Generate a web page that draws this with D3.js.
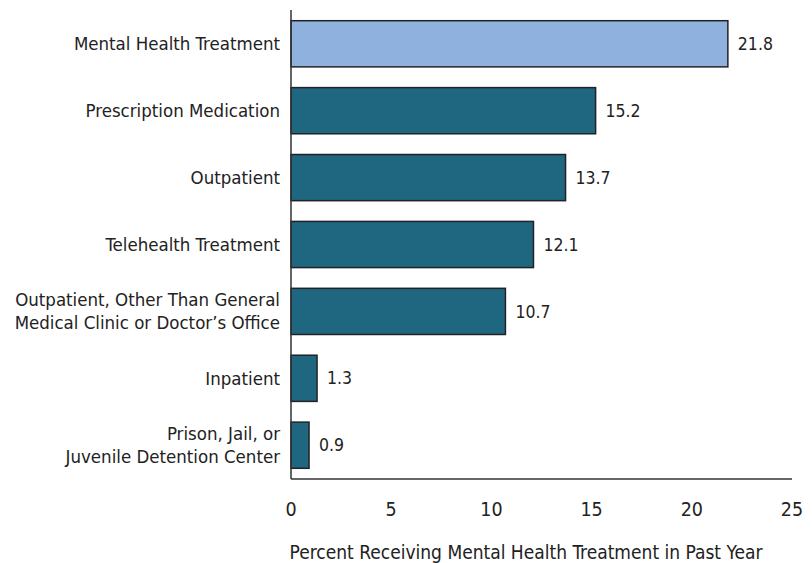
<!DOCTYPE html>
<html lang="en">
<meta charset="UTF-8">
<title>Mental Health Treatment</title>
<script src="https://d3js.org/d3.v7.min.js"></script>
<style>
  body { margin: 0; background: #fff; }
  text { font-family: "DejaVu Sans Condensed", "Liberation Sans Narrow", sans-serif; font-stretch: condensed; fill: #222; }
</style>
<body>
<div id="chart"></div>
<script>
// categories (two-line labels split on |)
var categories = [
  "Mental Health Treatment",
  "Prescription Medication",
  "Outpatient",
  "Telehealth Treatment",
  "Outpatient, Other Than General|Medical Clinic or Doctor’s Office",
  "Inpatient",
  "Prison, Jail, or|Juvenile Detention Center"
];
var values = [21.8, 15.2, 13.7, 12.1, 10.7, 1.3, 0.9];
var xTicks = [0, 5, 10, 15, 20, 25];
var xTitle = "Percent Receiving Mental Health Treatment in Past Year";

var width = 812, height = 563;
var margin = {top: 10, right: 20, bottom: 84, left: 291};

var svg = d3.select("#chart").append("svg")
  .attr("width", width)
  .attr("height", height);

var x = d3.scaleLinear()
  .domain([0, 25])
  .range([margin.left, width - margin.right]);

var y = d3.scaleBand()
  .domain(categories)
  .range([margin.top, height - margin.bottom])
  .paddingInner(0.31)
  .paddingOuter(0.16);

// bars
svg.append("g")
  .selectAll("rect")
  .data(categories)
  .enter()
  .append("rect")
    .attr("x", x(0))
    .attr("y", function(d) { return y(d); })
    .attr("width", function(d, i) { return x(values[i]) - x(0); })
    .attr("height", y.bandwidth())
    .attr("fill", function(d, i) { return i === 0 ? "#8fb1dd" : "#1f6680"; })
    .attr("stroke", "#222")
    .attr("stroke-width", 1.5);

// value labels
svg.append("g")
  .selectAll("text")
  .data(categories)
  .enter()
  .append("text")
    .attr("x", function(d, i) { return x(values[i]) + 10; })
    .attr("y", function(d) { return y(d) + y.bandwidth() / 2; })
    .attr("dy", "0.35em")
    .style("font-size", "17.5px")
    .text(function(d, i) { return values[i].toFixed(1); });

// category labels
var catLabels = svg.append("g")
  .selectAll("text")
  .data(categories)
  .enter()
  .append("text")
    .attr("text-anchor", "end")
    .style("font-size", "18.5px")
    .attr("transform", function(d) {
      return "translate(" + (x(0) - 11) + "," + (y(d) + y.bandwidth() / 2) + ")";
    });

catLabels.each(function(d) {
  var lines = d.split("|");
  var t = d3.select(this);
  lines.forEach(function(line, j) {
    t.append("tspan")
      .attr("x", 0)
      .attr("y", (j - (lines.length - 1) / 2) * 23)
      .attr("dy", "0.35em")
      .text(line);
  });
});

// axes lines
var axisBottomY = height - margin.bottom;
svg.append("line")
  .attr("x1", x(0)).attr("x2", x(0))
  .attr("y1", margin.top).attr("y2", axisBottomY)
  .attr("stroke", "#333").attr("stroke-width", 1.5);
svg.append("line")
  .attr("x1", x(0)).attr("x2", x(25))
  .attr("y1", axisBottomY).attr("y2", axisBottomY)
  .attr("stroke", "#333").attr("stroke-width", 1.5);

// x tick labels
svg.append("g")
  .selectAll("text")
  .data(xTicks)
  .enter()
  .append("text")
    .attr("x", function(d) { return x(d); })
    .attr("y", axisBottomY + 30)
    .attr("dy", "0.35em")
    .attr("text-anchor", "middle")
    .style("font-size", "19.5px")
    .text(function(d) { return d; });

// x axis title
svg.append("text")
  .attr("x", 526)
  .attr("y", axisBottomY + 73)
  .attr("dy", "0.35em")
  .attr("text-anchor", "middle")
  .style("font-size", "19px")
  .text(xTitle);
</script>
</body>
</html>
